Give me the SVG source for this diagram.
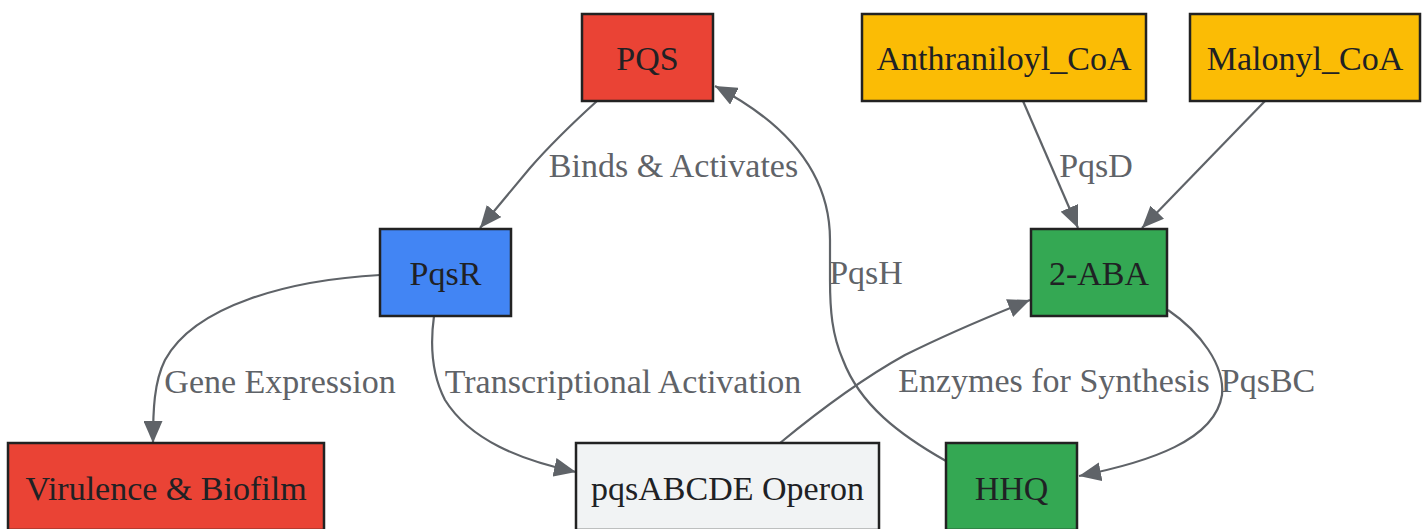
<svg xmlns="http://www.w3.org/2000/svg" width="1428" height="529" viewBox="0 0 1428 529">
<style>
.node rect{stroke:#222;stroke-width:2.5}
.node text{font-family:"Liberation Serif","Times New Roman",serif;font-size:34px;fill:#202124;text-anchor:middle}
.edge{fill:none;stroke:#5f6368;stroke-width:2.2}
.lbl{font-family:"Liberation Serif","Times New Roman",serif;font-size:34px;fill:#5f6368;text-anchor:middle}
.red{fill:#ea4335}.blue{fill:#4285f4}.yellow{fill:#fbbc05}.green{fill:#34a853}.grey{fill:#f1f3f4}
</style>
<defs>
<marker id="arr" markerUnits="userSpaceOnUse" viewBox="0 0 22 19" markerWidth="22" markerHeight="19" refX="22" refY="9.5" orient="auto">
<path d="M0,0 L22,9.5 L0,19 z" fill="#5f6368"/>
</marker>
</defs>
<rect width="1428" height="529" fill="#ffffff"/>
<g id="connectors">
<path class="edge" marker-end="url(#arr)" d="M597,101 C575,121 550,145 530,168 C515,186 495,210 480,228"/>
<path class="edge" marker-end="url(#arr)" d="M380,275 C290,280 195,305 165,360 C154,382 153,410 153,443"/>
<path class="edge" marker-end="url(#arr)" d="M434,316 C430,345 432,375 445,400 C470,440 520,460 576,472"/>
<path class="edge" marker-end="url(#arr)" d="M780,443 C820,410 860,380 905,355 C945,335 985,318 1030,300"/>
<path class="edge" marker-end="url(#arr)" d="M1023,101 L1078,228"/>
<path class="edge" marker-end="url(#arr)" d="M1265,101 L1142,228"/>
<path class="edge" marker-end="url(#arr)" d="M1168,310 C1200,332 1225,365 1222,395 C1215,440 1150,462 1079,476"/>
<path class="edge" marker-end="url(#arr)" d="M946,461 C900,435 860,405 843,360 C832,335 830,310 830,280 L830,240 C830,175 790,125 715,86"/>
<text class="lbl" x="673.5" y="177">Binds &amp; Activates</text>
<text class="lbl" x="1096" y="177">PqsD</text>
<text class="lbl" x="866" y="284">PqsH</text>
<text class="lbl" x="280" y="393">Gene Expression</text>
<text class="lbl" x="623" y="393">Transcriptional Activation</text>
<text class="lbl" x="1054" y="392">Enzymes for Synthesis</text>
<text class="lbl" x="1268" y="392">PqsBC</text>
</g>
<g id="PQS" class="node"><rect class="red" x="582" y="14" width="131" height="87"/><text x="647.5" y="70">PQS</text></g>
<g id="Anthraniloyl_CoA" class="node"><rect class="yellow" x="862" y="14" width="284" height="87"/><text x="1004" y="70">Anthraniloyl_CoA</text></g>
<g id="Malonyl_CoA" class="node"><rect class="yellow" x="1190" y="14" width="230" height="87"/><text x="1305" y="70">Malonyl_CoA</text></g>
<g id="PqsR" class="node"><rect class="blue" x="380" y="229" width="131" height="87"/><text x="445.5" y="285">PqsR</text></g>
<g id="ABA" class="node"><rect class="green" x="1031" y="229" width="136" height="87"/><text x="1099" y="285">2-ABA</text></g>
<g id="Virulence" class="node"><rect class="red" x="8" y="443" width="316" height="87"/><text x="166" y="500">Virulence &amp; Biofilm</text></g>
<g id="Operon" class="node"><rect class="grey" x="576" y="443" width="303" height="87"/><text x="727.5" y="500">pqsABCDE Operon</text></g>
<g id="HHQ" class="node"><rect class="green" x="946" y="443" width="131" height="87"/><text x="1011.5" y="500">HHQ</text></g>
</svg>
